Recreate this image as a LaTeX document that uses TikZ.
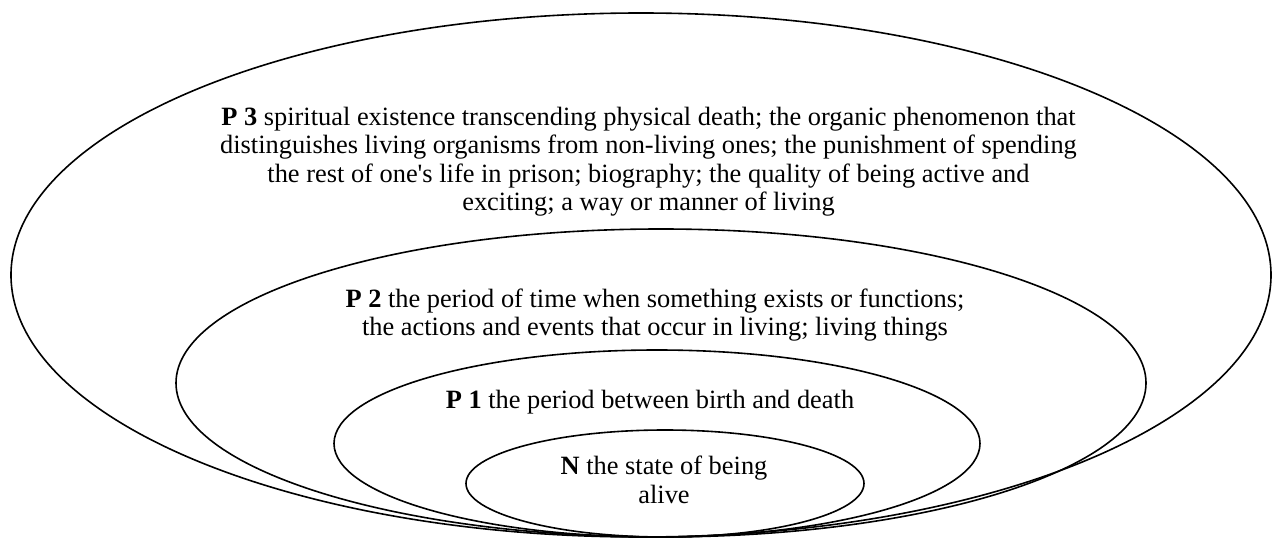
\documentclass[tikz,border=0pt]{standalone}
\usepackage{fontspec}
\setmainfont{Liberation Serif}[Ligatures=TeXOff]
\usetikzlibrary{shapes.geometric}
\tikzset{
  ring/.style={draw, ellipse, line width=1.6pt, inner sep=0pt},
  label/.style={align=center, inner sep=0pt, font=\fontsize{26.4}{28.5}\selectfont}
}
\begin{document}
\begin{tikzpicture}[x=1pt,y=-1pt]
\useasboundingbox (0,0) rectangle (1272,540);
\node[ring, minimum width=1260pt, minimum height=524pt] (p3) at (641,275) {};
\node[ring, minimum width=970pt, minimum height=308pt] (p2) at (661,383) {};
\node[ring, minimum width=646pt, minimum height=187pt] (p1) at (657,443.5) {};
\node[ring, minimum width=398pt, minimum height=107pt] (n) at (665,483.5) {};
\node[label] (t3) at (648.5,161.5) {\textbf{P 3} spiritual existence transcending physical death; the organic phenomenon that\\distinguishes living organisms from non-living ones; the punishment of spending\\the rest of one's life in prison; biography; the quality of being active and\\exciting; a way or manner of living};
\node[label] (t2) at (655,315) {\textbf{P 2} the period of time when something exists or functions;\\the actions and events that occur in living; living things};
\node[label] (t1) at (650,402) {\textbf{P 1} the period between birth and death};
\node[label] (tn) at (664,480) {\textbf{N} the state of being\\alive};
\end{tikzpicture}
\end{document}
